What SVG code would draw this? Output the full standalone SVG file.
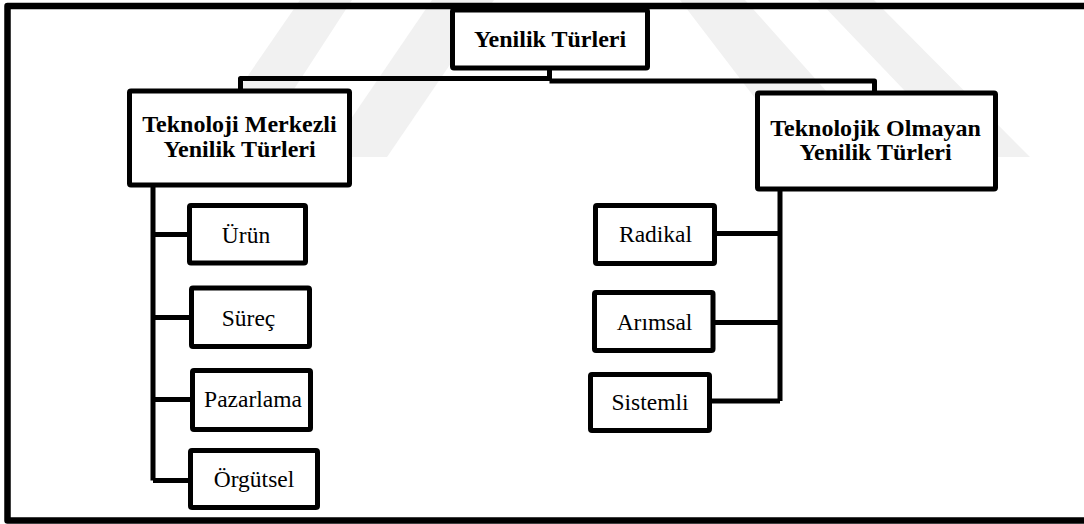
<svg xmlns="http://www.w3.org/2000/svg" width="1084" height="524" viewBox="0 0 1084 524">
  <style>
    .box { fill: #ffffff; stroke: #000000; stroke-width: 5; stroke-linejoin: round; }
    .wire { fill: none; stroke: #000000; stroke-width: 5; stroke-linejoin: round; }
    .frame { fill: none; stroke: #000000; stroke-width: 6.5; stroke-linejoin: round; }
    .mark { fill: #f1f1f1; }
    text { font-family: 'Liberation Serif', 'Times New Roman', serif; font-size: 23.5px; text-anchor: middle; fill: #000000; }
    .head { font-weight: bold; font-size: 24px; }
  </style>

  <rect x="0" y="0" width="1084" height="524" fill="#ffffff"/>

  <!-- faint background emblem -->
  <g id="emblem">
    <polygon class="mark" points="300,0 352,0 250,157 192,157"/>
    <polygon class="mark" points="432,0 494,0 387,157 325,157"/>
    <polygon class="mark" points="680,0 745,0 885,157 800,157"/>
    <polygon class="mark" points="818,0 874,0 1030,157 968,157"/>
  </g>

  <!-- outer frame -->
  <rect class="frame" x="7.5" y="6" width="1100" height="514.5"/>

  <!-- connectors -->
  <g id="connectors">
    <path class="wire" d="M549.5,68 V81"/>
    <path class="wire" d="M549.5,78.5 H240.5 V91"/>
    <path class="wire" d="M549.5,81 H874.5 V93"/>
    <path class="wire" d="M153,185 V480.5"/>
    <path class="wire" d="M153,234.5 H189.5"/>
    <path class="wire" d="M153,317.5 H191.5"/>
    <path class="wire" d="M153,399.5 H192.5"/>
    <path class="wire" d="M153,480.5 H190.5"/>
    <path class="wire" d="M780,189 V401"/>
    <path class="wire" d="M714.5,233.5 H780"/>
    <path class="wire" d="M713,322.5 H780"/>
    <path class="wire" d="M709.5,401 H780"/>
  </g>

  <g id="root">
    <rect class="box" x="452.5" y="10" width="195" height="58" rx="1.5"/>
    <text class="head" x="550" y="47">Yenilik Türleri</text>
  </g>

  <g id="tech">
    <rect class="box" x="129.5" y="91" width="220" height="94" rx="1.5"/>
    <text class="head" x="239.5" y="131.5">Teknoloji Merkezli</text>
    <text class="head" x="239.5" y="156.5">Yenilik Türleri</text>
  </g>

  <g id="nontech">
    <rect class="box" x="757.5" y="93" width="238" height="96" rx="1.5"/>
    <text class="head" x="875.5" y="136">Teknolojik Olmayan</text>
    <text class="head" x="875.5" y="160">Yenilik Türleri</text>
  </g>

  <g id="urun">
    <rect class="box" x="189.5" y="205.5" width="116" height="57.5" rx="1.5"/>
    <text x="246" y="243">Ürün</text>
  </g>

  <g id="surec">
    <rect class="box" x="191.5" y="288" width="118" height="58.5" rx="1.5"/>
    <text x="248.5" y="326">Süreç</text>
  </g>

  <g id="pazarlama">
    <rect class="box" x="192.5" y="370.5" width="118" height="59" rx="1.5"/>
    <text x="253" y="406.5">Pazarlama</text>
  </g>

  <g id="orgutsel">
    <rect class="box" x="190.5" y="450.5" width="127" height="57" rx="1.5"/>
    <text x="254" y="486.5">Örgütsel</text>
  </g>

  <g id="radikal">
    <rect class="box" x="595.5" y="205.5" width="119" height="58" rx="1.5"/>
    <text x="655.5" y="241.5">Radikal</text>
  </g>

  <g id="arimsal">
    <rect class="box" x="594.5" y="292.5" width="118.5" height="58" rx="1.5"/>
    <text x="654.5" y="330">Arımsal</text>
  </g>

  <g id="sistemli">
    <rect class="box" x="590.5" y="374.5" width="119" height="56" rx="1.5"/>
    <text x="650" y="410">Sistemli</text>
  </g>
</svg>
